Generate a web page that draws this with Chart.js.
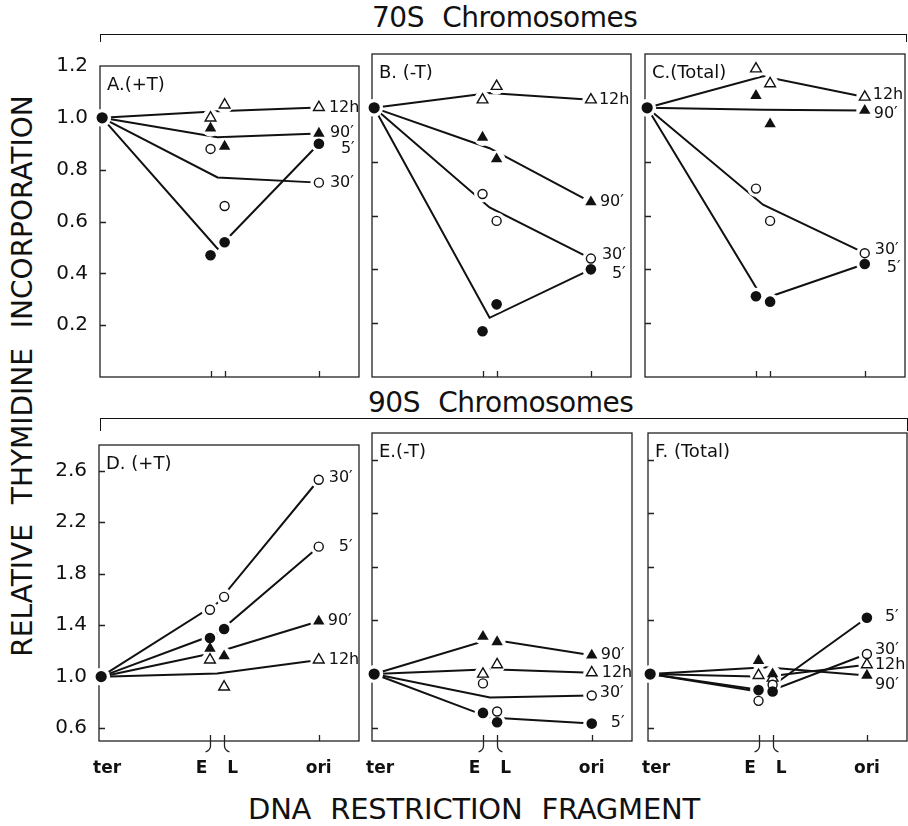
<!DOCTYPE html>
<html>
<head>
<meta charset="utf-8">
<script src="https://cdn.jsdelivr.net/npm/chart.js@4.4.0/dist/chart.umd.min.js"></script>
<style>
html, body { margin: 0; padding: 0; background: #fff; }
#page { position: relative; width: 908px; height: 826px; overflow: hidden; background: #fff;
        font-family: "DejaVu Sans", sans-serif; color: #111; }
.sec { position: absolute; font-size: 28px; line-height: 28px; white-space: nowrap; word-spacing: 10px; letter-spacing: -0.5px; }
.brk { position: absolute; border-top: 1.6px solid #111; border-left: 1.4px solid #111; border-right: 1.4px solid #111; }
.ytitle { position: absolute; left: 23px; top: 376px; font-size: 28px; line-height: 28px; white-space: nowrap;
          word-spacing: 11px; transform: translate(-50%, -50%) rotate(-90deg); }
.xtitle { position: absolute; left: 248px; top: 795px; font-size: 29px; line-height: 29px; white-space: nowrap;
          word-spacing: 10px; letter-spacing: -0.2px; }
canvas { position: absolute; }
</style>
</head>
<body>
<div id="page">
  <div class="sec" style="left:372px; top:4px;">70S Chromosomes</div>
  <div class="brk" style="left:100px; top:34px; width:805px; height:7px;"></div>
  <div class="sec" style="left:368px; top:389px;">90S Chromosomes</div>
  <div class="brk" style="left:100px; top:418px; width:806px; height:12px;"></div>
  <div class="ytitle">RELATIVE THYMIDINE INCORPORATION</div>
  <div class="xtitle">DNA RESTRICTION FRAGMENT</div>
</div>
<script>
// ---------------- data ----------------
const fragments = ['ter', 'E', 'L', 'ori'];
const fragmentX = [0, 5, 5.65, 10];
const seriesNames = ['5\u2032', '30\u2032', '90\u2032', '12h'];
const yTicks70S = [0.2, 0.4, 0.6, 0.8, 1.0, 1.2];
const yTicks90S = [0.6, 1.0, 1.4, 1.8, 2.2, 2.6];

// values at ter, E, L, ori
const A_5min  = [1.0, 0.47, 0.52, 0.90];
const A_30min = [1.0, 0.88, 0.66, 0.75];
const A_90min = [1.0, 0.96, 0.89, 0.94];
const A_12h   = [1.0, 1.00, 1.05, 1.04];

const B_5min  = [1.0, 0.17, 0.27, 0.40];
const B_30min = [1.0, 0.68, 0.58, 0.44];
const B_90min = [1.0, 0.89, 0.81, 0.65];
const B_12h   = [1.0, 1.03, 1.08, 1.03];

const C_5min  = [1.0, 0.30, 0.28, 0.42];
const C_30min = [1.0, 0.70, 0.58, 0.46];
const C_90min = [1.0, 1.045, 0.94, 0.99];
const C_12h   = [1.0, 1.145, 1.09, 1.04];

const D_5min  = [1.0, 1.30, 1.37, 2.01];
const D_30min = [1.0, 1.52, 1.62, 2.53];
const D_90min = [1.0, 1.22, 1.16, 1.43];
const D_12h   = [1.0, 1.13, 0.92, 1.13];

const E_5min  = [1.0, 0.71, 0.64, 0.63];
const E_30min = [1.0, 0.93, 0.72, 0.84];
const E_90min = [1.0, 1.28, 1.24, 1.14];
const E_12h   = [1.0, 1.00, 1.07, 1.01];

const F_5min  = [1.0, 0.88, 0.87, 1.42];
const F_30min = [1.0, 0.80, 0.92, 1.15];
const F_90min = [1.0, 1.10, 1.00, 0.99];
const F_12h   = [1.0, 0.99, 0.97, 1.07];

// ---------------- styling / layout ----------------
const INK = '#111';
Chart.defaults.font.family = '"DejaVu Sans", sans-serif';
Chart.defaults.color = INK;

const markerStyle = [
  { pointStyle: 'circle',   radius: 5.3, fill: INK,    bw: 0 },
  { pointStyle: 'circle',   radius: 4.5, fill: '#fff', bw: 1.4 },
  { pointStyle: 'triangle', radius: 6.6, fill: INK,    bw: 0 },
  { pointStyle: 'triangle', radius: 6.2, fill: '#fff', bw: 1.4 }
];

const panels = [
  { title: 'A.(+T)',    series: [A_5min, A_30min, A_90min, A_12h], row: 0, l: 100, r: 359, yLabels: true,
    labels: [[3, 10, 0], [2, 11, -1], [0, 22, 5], [1, 11, 0]] },
  { title: 'B. (-T)',   series: [B_5min, B_30min, B_90min, B_12h], row: 0, l: 372, r: 631, yLabels: false,
    labels: [[3, 8, 0], [2, 9, 0], [1, 11, -4], [0, 21, 5]] },
  { title: 'C.(Total)', series: [C_5min, C_30min, C_90min, C_12h], row: 0, l: 645, r: 905, yLabels: false,
    labels: [[3, 8, -2], [2, 9, 3], [1, 10, -3], [0, 22, 4]] },
  { title: 'D. (+T)',   series: [D_5min, D_30min, D_90min, D_12h], row: 1, l: 99, r: 359, yLabels: true,
    labels: [[1, 10, -2], [0, 20, 0], [2, 9, 0], [3, 10, 0]], openOri: 0 },
  { title: 'E.(-T)',    series: [E_5min, E_30min, E_90min, E_12h], row: 1, l: 372, r: 632, yLabels: false,
    labels: [[2, 9, 0], [3, 10, 0], [1, 8, -3], [0, 19, -1]] },
  { title: 'F. (Total)', series: [F_5min, F_30min, F_90min, F_12h], row: 1, l: 648, r: 907, yLabels: false,
    labels: [[0, 18, -1], [1, 8, -4], [3, 8, 0], [2, 8, 9]] }
];
const rows = [
  { t: 54,  b: 377, min: 0,   max: 1.2, ticks: yTicks70S },
  { t: 433, b: 741, min: 0.5, max: 2.8, ticks: yTicks90S }
];

const PAD_L = 100, PAD_T = 12, PAD_R = 10, PAD_B = 40;

function pt(i, s) { return { x: fragmentX[i], y: s[i] }; }

function buildDatasets(p) {
  const ds = [];
  p.series.forEach((s, si) => {
    const st = markerStyle[si];
    const mid = { x: (fragmentX[1] + fragmentX[2]) / 2, y: (s[1] + s[2]) / 2 };
    ds.push({ data: [pt(0, s), mid, pt(3, s)], showLine: true, pointRadius: 0, borderColor: INK,
              borderWidth: 2, order: 3, clip: false });
    const pts = [1, 2, 3].map(i => pt(i, s));
    ds.push({ data: pts, pointStyle: 'circle', pointRadius: 8.5, pointBackgroundColor: '#fff',
              pointBorderWidth: 0, order: 2, clip: false });
    const styles = pts.map(() => st);
    if (p.openOri === si) styles[2] = markerStyle[1];
    ds.push({ data: pts,
              pointStyle: styles.map(x => x.pointStyle),
              pointRadius: styles.map(x => x.radius),
              pointBackgroundColor: styles.map(x => x.fill),
              pointBorderColor: INK,
              pointBorderWidth: styles.map(x => x.bw),
              order: 0, clip: false });
  });
  const ter = [pt(0, p.series[0])];
  ds.push({ data: ter, pointStyle: 'circle', pointRadius: 9, pointBackgroundColor: '#fff', pointBorderWidth: 0, order: 2, clip: false });
  ds.push({ data: ter, pointStyle: 'circle', pointRadius: 5.6, pointBackgroundColor: INK, pointBorderWidth: 0, order: 0, clip: false });
  return ds;
}

const deco = {
  id: 'deco',
  beforeDatasetsDraw(chart, args, o) {
    const { ctx, chartArea: a } = chart;
    const x = chart.scales.x, y = chart.scales.y;
    ctx.save();
    ctx.strokeStyle = '#222';
    ctx.lineWidth = 1.3;
    ctx.strokeRect(a.left, a.top, a.right - a.left, a.bottom - a.top);
    ctx.beginPath();
    y.ticks.forEach(t => {
      const py = Math.round(y.getPixelForValue(t.value)) + 0.5;
      if (py > a.top + 3) { ctx.moveTo(a.left, py); ctx.lineTo(a.left + 6, py); }
    });
    x.ticks.forEach((t, i) => {
      if (i === 0) return;
      const px = Math.round(x.getPixelForValue(t.value)) + 0.5;
      ctx.moveTo(px, a.bottom); ctx.lineTo(px, a.bottom - 6);
    });
    ctx.stroke();
    if (o.braces) {
      const pe = Math.round(x.getPixelForValue(fragmentX[1])) + 0.5;
      const pl = Math.round(x.getPixelForValue(fragmentX[2])) + 0.5;
      ctx.beginPath();
      ctx.moveTo(pe, a.bottom); ctx.lineTo(pe, a.bottom + 5);
      ctx.quadraticCurveTo(pe, a.bottom + 9, pe - 5, a.bottom + 11);
      ctx.moveTo(pl, a.bottom); ctx.lineTo(pl, a.bottom + 5);
      ctx.quadraticCurveTo(pl, a.bottom + 9, pl + 5, a.bottom + 11);
      ctx.stroke();
    }
    ctx.fillStyle = INK;
    ctx.font = '18px "DejaVu Sans"';
    ctx.textBaseline = 'middle';
    ctx.textAlign = 'left';
    ctx.fillText(o.title, a.left + 7, a.top + 19);
    ctx.restore();
  },
  afterDatasetsDraw(chart, args, o) {
    const { ctx } = chart;
    const x = chart.scales.x, y = chart.scales.y;
    ctx.save();
    ctx.fillStyle = INK;
    ctx.font = '16px "DejaVu Sans"';
    ctx.textBaseline = 'middle';
    ctx.textAlign = 'left';
    o.labels.forEach(([si, dx, dy]) => {
      const s = o.series[si];
      ctx.fillText(seriesNames[si], x.getPixelForValue(fragmentX[3]) + dx, y.getPixelForValue(s[3]) + dy);
    });
    ctx.restore();
  }
};

const tickText = ['\u2002\u2009' + fragments[0], fragments[1] + '\u2003', '\u2003' + fragments[2], fragments[3]];

const page = document.getElementById('page');
panels.forEach(p => {
  const row = rows[p.row];
  const canvas = document.createElement('canvas');
  const W = (p.r - p.l) + PAD_L + PAD_R;
  const H = (row.b - row.t) + PAD_T + PAD_B;
  canvas.width = W; canvas.height = H;
  canvas.style.left = (p.l - PAD_L) + 'px';
  canvas.style.top = (row.t - PAD_T) + 'px';
  canvas.style.width = W + 'px'; canvas.style.height = H + 'px';
  page.appendChild(canvas);
  new Chart(canvas, {
    type: 'scatter',
    data: { datasets: buildDatasets(p) },
    options: {
      responsive: false,
      animation: false,
      events: [],
      devicePixelRatio: 1,
      layout: { padding: { left: 0, top: PAD_T, right: PAD_R, bottom: 0 } },
      plugins: {
        legend: { display: false },
        tooltip: { enabled: false },
        deco: { title: p.title, labels: p.labels, series: p.series, braces: p.row === 1 }
      },
      scales: {
        x: {
          type: 'linear', min: -0.1, max: 11.85,
          grid: { display: false, drawTicks: false },
          border: { display: false },
          afterBuildTicks: sc => { sc.ticks = fragmentX.map(v => ({ value: v })); },
          afterFit: sc => { sc.height = PAD_B; },
          ticks: {
            display: p.row === 1, autoSkip: false, maxRotation: 0, minRotation: 0, padding: 17,
            font: { size: 17, weight: 'bold' }, color: INK,
            callback: (v, i) => tickText[i]
          }
        },
        y: {
          type: 'linear', min: row.min, max: row.max,
          grid: { display: false, drawTicks: false },
          border: { display: false },
          afterBuildTicks: sc => { sc.ticks = row.ticks.map(v => ({ value: v })); },
          afterFit: sc => { sc.width = PAD_L; },
          ticks: {
            display: p.yLabels, autoSkip: false, padding: 12,
            font: { size: 20 }, color: INK,
            callback: v => Number(v).toFixed(1)
          }
        }
      }
    },
    plugins: [deco]
  });
});
</script>
</body>
</html>
